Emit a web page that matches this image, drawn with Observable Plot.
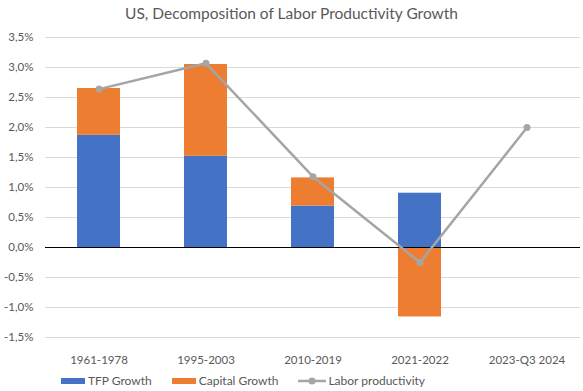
<!DOCTYPE html>
<html>
<head>
<meta charset="utf-8">
<script src="https://cdn.jsdelivr.net/npm/d3@7"></script>
<script src="https://cdn.jsdelivr.net/npm/@observablehq/plot@0.6"></script>
<style>
  body { margin: 0; background: #fff; font-family: Lato, "Open Sans", sans-serif; color: #595959; }
  #title { height: 28px; line-height: 26px; text-align: center; font-size: 15.5px; color: #595959; }
  #legend { position: relative; height: 23px; font-size: 12px; color: #595959; }
  #legend .row { position: absolute; left: 61px; top: 5px; display: flex; align-items: center; white-space: nowrap; }
  .item { display: flex; align-items: center; margin-right: 20px; }
  .sw { width: 24px; height: 6px; margin-right: 3px; }
</style>
</head>
<body>
<div id="title">US, Decomposition of Labor Productivity Growth</div>
<div id="chart"></div>
<div id="legend"></div>
<script>
const periods = ["1961-1978", "1995-2003", "2010-2019", "2021-2022", "2023-Q3 2024"];
const tfpGrowth = [1.87, 1.52, 0.69, 0.905, null];
const capitalGrowth = [0.78, 1.53, 0.47, -1.157, null];
const laborProductivity = [2.64, 3.07, 1.18, -0.25, 2.0];
const yTicks = [-1.5, -1.0, -0.5, 0, 0.5, 1.0, 1.5, 2.0, 2.5, 3.0, 3.5];

const colors = { tfp: "#4472C4", cap: "#ED7D31", lp: "#A5A5A5" };

const bars = [];
periods.forEach((p, i) => {
  if (tfpGrowth[i] != null) bars.push({ period: p, series: "TFP Growth", value: tfpGrowth[i] });
  if (capitalGrowth[i] != null) bars.push({ period: p, series: "Capital Growth", value: capitalGrowth[i] });
});
const line = periods.map((p, i) => ({ period: p, value: laborProductivity[i] }));

const fmt = d => d.toFixed(1).replace(".", ",") + "%";

const chart = Plot.plot({
  width: 583,
  height: 340,
  marginTop: 9,
  marginBottom: 31,
  marginLeft: 45,
  marginRight: 3,
  style: { fontFamily: "Lato, 'Open Sans', sans-serif", fontSize: "11.5px", color: "#595959" },
  x: { domain: periods, paddingInner: 0.6, paddingOuter: 0.3, label: null, tickSize: 0, tickPadding: 18 },
  y: { domain: [-1.5, 3.5], ticks: yTicks, tickFormat: fmt, label: null, tickSize: 0, tickPadding: 12 },
  color: { domain: ["TFP Growth", "Capital Growth"], range: [colors.tfp, colors.cap] },
  marks: [
    Plot.gridY(yTicks, { stroke: "#D9D9D9", strokeOpacity: 1, strokeWidth: 1 }),
    Plot.barY(bars, { x: "period", y: "value", fill: "series", order: ["TFP Growth", "Capital Growth"] }),
    Plot.ruleY([0], { stroke: "#000", strokeWidth: 1 }),
    Plot.line(line, { x: "period", y: "value", stroke: colors.lp, strokeWidth: 2.5 }),
    Plot.dot(line, { x: "period", y: "value", fill: colors.lp, r: 3.5 })
  ]
});
document.getElementById("chart").appendChild(chart);

const legend = document.getElementById("legend");
legend.innerHTML = `<div class="row">
  <div class="item"><div class="sw" style="background:${colors.tfp}"></div>TFP Growth</div>
  <div class="item"><div class="sw" style="background:${colors.cap}"></div>Capital Growth</div>
  <div class="item"><svg width="28" height="8" style="margin-right:2px"><line x1="0" y1="4" x2="28" y2="4" stroke="${colors.lp}" stroke-width="2.5"/><circle cx="14" cy="4" r="3.5" fill="${colors.lp}"/></svg>Labor productivity</div></div>`;
</script>
</body>
</html>
